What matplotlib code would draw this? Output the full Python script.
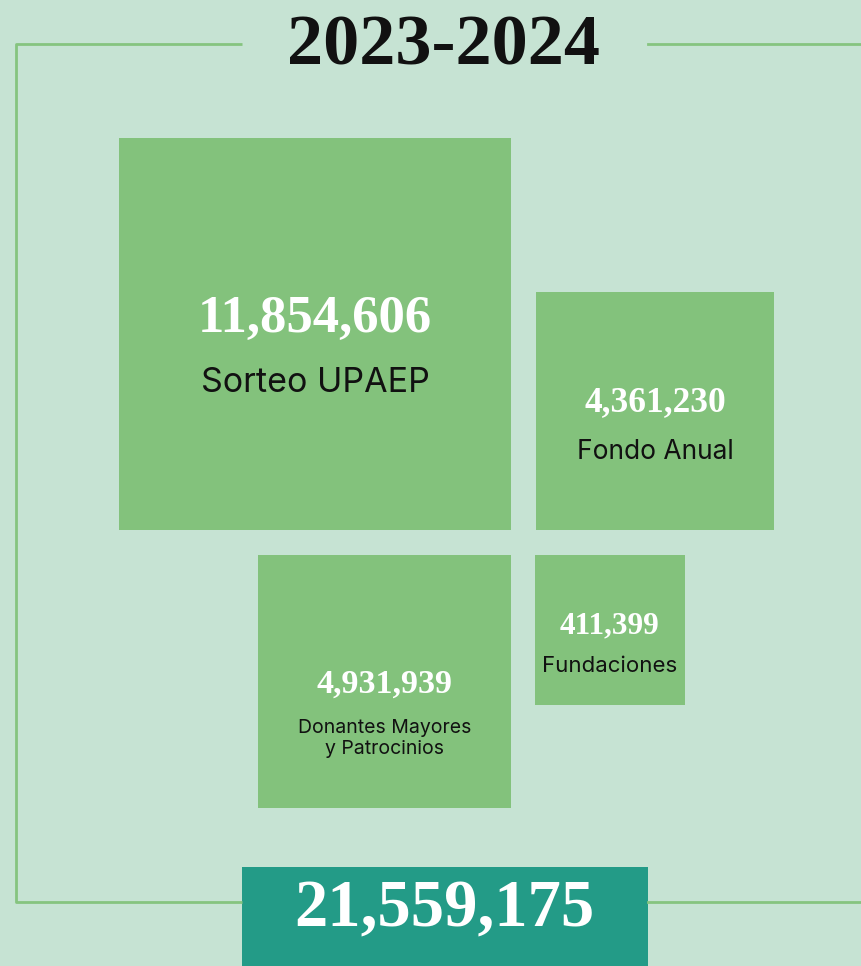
import matplotlib.pyplot as plt
from matplotlib.patches import Rectangle
import numpy as np

# data
period = '2023-2024'
categories = ['Sorteo UPAEP', 'Fondo Anual', 'Donantes Mayores\ny Patrocinios', 'Fundaciones']
amounts = [11854606, 4361230, 4931939, 411399]
total = 21559175

# colours
bg = '#c6e3d3'
box_c = '#83c27c'
line_c = '#86c47f'
total_c = '#239b87'

# layout (pixels): anchor x, anchor y, x-align, y-align, number pos, label pos, font sizes
layout = [
    (511, 530, 'right', 'bottom', 0.462, 0.625, 38, 24.5),
    (536, 530, 'left', 'bottom', 0.466, 0.672, 25.5, 19),
    (511, 555, 'right', 'top', 0.512, 0.727, 24.5, 14),
    (535, 555, 'left', 'top', 0.470, 0.737, 22.5, 16),
]
scale = 392 / np.sqrt(amounts[0])
min_side = 150

W, H = 862, 966
fig = plt.figure(figsize=(W / 100, H / 100), dpi=100)
fig.patch.set_facecolor(bg)
ax = fig.add_axes([0, 0, 1, 1])
ax.set_xlim(0, W)
ax.set_ylim(H, 0)
ax.axis('off')

# frame
ax.plot([242, 16, 16, 242], [44, 44, 902, 902], color=line_c, lw=2, solid_capstyle='butt')
ax.plot([648, W], [44, 44], color=line_c, lw=2)
ax.plot([648, W], [902, 902], color=line_c, lw=2)

ax.text(444, 47, period, ha='center', va='center', fontsize=52,
        fontweight='bold', family='Liberation Serif', color='#111111')

for cat, val, (x0, y0, ha, va, fn, fl, sn, sl) in zip(categories, amounts, layout):
    side = max(np.sqrt(val) * scale, min_side)
    left = x0 - side if ha == 'right' else x0
    top = y0 - side if va == 'bottom' else y0
    ax.add_patch(Rectangle((left, top), side, side, color=box_c, lw=0))
    cx = left + side / 2
    ax.text(cx, top + side * fn, f'{val:,}', ha='center', va='center',
            fontsize=sn, fontweight='bold', family='Liberation Serif', color='white')
    ax.text(cx, top + side * fl, cat, ha='center', va='center', fontsize=sl,
            family='Inter', color='#111111', linespacing=1.2)

ax.add_patch(Rectangle((242, 867), 406, 120, color=total_c, lw=0))
ax.text(444, 910, f'{total:,}', ha='center', va='center', fontsize=48,
        fontweight='bold', family='Liberation Serif', color='white')

fig.savefig('out.png', dpi=100, facecolor=bg)
